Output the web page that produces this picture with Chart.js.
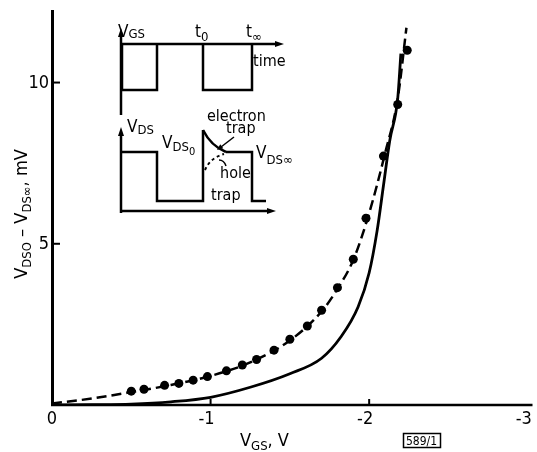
<!DOCTYPE html>
<html>
<head>
<meta charset="utf-8">
<script src="https://cdn.jsdelivr.net/npm/chart.js@4/dist/chart.umd.min.js"></script>
<style>
  html, body { margin: 0; padding: 0; background: #fff; }
</style>
</head>
<body>
<canvas id="chart" width="537" height="452"></canvas>
<script>
// axis ticks
const xTicks = [0, -1, -2, -3];
const xTickLabels = ['0', '-1', '-2', '-3'];
const yTicks = [5, 10];
const yTickLabels = ['5', '10'];

// measured points (dots)
const dotVgs = [-0.50, -0.58, -0.71, -0.80, -0.89, -0.98, -1.10, -1.20, -1.29, -1.40, -1.50, -1.61, -1.70, -1.80, -1.90, -1.98, -2.09, -2.18, -2.24];
const dotMv  = [0.43, 0.49, 0.61, 0.67, 0.77, 0.88, 1.06, 1.24, 1.41, 1.70, 2.04, 2.45, 2.94, 3.64, 4.52, 5.79, 7.72, 9.32, 11.0];

// dashed curve
const fitVgs = [0, -0.25, -0.5, -0.75, -1.0, -1.25, -1.5, -1.7, -1.8, -1.9, -2.0, -2.1, -2.18, -2.235];
const fitMv  = [0.05, 0.2, 0.4, 0.62, 0.9, 1.32, 2.0, 2.9, 3.6, 4.5, 5.95, 7.8, 9.5, 11.7];

// solid curve
const calcVgs = [0, -0.25, -0.5, -0.75, -1.0, -1.25, -1.5, -1.7, -1.82, -1.93, -2.0, -2.05, -2.09, -2.13, -2.18, -2.2];
const calcMv  = [0, 0.01, 0.03, 0.1, 0.24, 0.55, 0.97, 1.45, 2.1, 3.04, 4.1, 5.4, 6.8, 8.2, 9.5, 10.9];

const FONT = '"Liberation Sans Narrow", "DejaVu Sans Condensed", "Liberation Sans", sans-serif';

const pairs = (xs, ys) => xs.map((x, i) => ({ x: x, y: ys[i] }));

// text with subscripts: parts = [text, size, dy]
function rich(ctx, x, y, parts) {
  let cx = x;
  for (const [t, size, dy] of parts) {
    ctx.font = size + 'px ' + FONT;
    ctx.fillText(t, cx, y + (dy || 0));
    cx += ctx.measureText(t).width;
  }
  return cx - x;
}
function richWidth(ctx, parts) {
  let w = 0;
  for (const [t, size] of parts) {
    ctx.font = size + 'px ' + FONT;
    w += ctx.measureText(t).width;
  }
  return w;
}
function poly(ctx, pts) {
  ctx.beginPath();
  ctx.moveTo(pts[0][0], pts[0][1]);
  for (let i = 1; i < pts.length; i++) ctx.lineTo(pts[i][0], pts[i][1]);
  ctx.stroke();
}
function head(ctx, x, y, ang, len, wid) {
  ctx.save();
  ctx.translate(x, y);
  ctx.rotate(ang);
  ctx.beginPath();
  ctx.moveTo(0, 0);
  ctx.lineTo(-len, -wid / 2);
  ctx.lineTo(-len, wid / 2);
  ctx.closePath();
  ctx.fill();
  ctx.restore();
}

function drawInset(ctx) {
  ctx.save();
  ctx.strokeStyle = '#000';
  ctx.fillStyle = '#000';
  ctx.lineWidth = 2.5;
  ctx.textBaseline = 'alphabetic';
  ctx.textAlign = 'left';

  // upper: V_GS
  poly(ctx, [[121, 115], [121, 34]]);
  head(ctx, 121, 28, -Math.PI / 2, 9, 6);
  poly(ctx, [[121, 44], [277, 44]]);
  head(ctx, 284, 44, 0, 9, 6);
  poly(ctx, [[122, 44], [122, 90], [157, 90], [157, 44]]);
  poly(ctx, [[203, 44], [203, 90], [252, 90], [252, 44]]);

  // lower: V_DS
  poly(ctx, [[121, 213], [121, 133]]);
  head(ctx, 121, 127, -Math.PI / 2, 9, 6);
  poly(ctx, [[121, 211], [269, 211]]);
  head(ctx, 276, 211, 0, 9, 6);
  poly(ctx, [[121, 152], [157, 152], [157, 201], [203, 201], [203, 130]]);
  ctx.beginPath();
  ctx.moveTo(203, 130);
  ctx.quadraticCurveTo(211, 146, 226, 152);
  ctx.stroke();
  poly(ctx, [[226, 152], [252, 152], [252, 201], [266, 201]]);

  // hole trap (dashed)
  ctx.save();
  ctx.lineWidth = 2;
  ctx.setLineDash([3, 3]);
  ctx.beginPath();
  ctx.moveTo(205, 170);
  ctx.quadraticCurveTo(210, 158, 224, 154);
  ctx.stroke();
  ctx.restore();

  // small pointer arrows
  ctx.lineWidth = 1.5;
  poly(ctx, [[234, 137], [221, 147]]);
  head(ctx, 217, 150, Math.atan2(13, -17), 6, 5);
  ctx.beginPath();
  ctx.moveTo(226, 166);
  ctx.quadraticCurveTo(224, 160, 219, 160);
  ctx.stroke();

  // labels
  rich(ctx, 118, 37, [['V', 17], ['GS', 13, 1]]);
  rich(ctx, 195, 37, [['t', 17], ['0', 13, 4]]);
  rich(ctx, 246, 37, [['t', 17], ['\u221e', 13, 4]]);
  rich(ctx, 253, 66, [['time', 16]]);
  rich(ctx, 127, 132, [['V', 17], ['DS', 13, 2]]);
  rich(ctx, 162, 148, [['V', 17], ['DS', 13, 3], ['0', 11, 7]]);
  rich(ctx, 207, 121, [['electron', 16]]);
  rich(ctx, 226, 133, [['trap', 16]]);
  rich(ctx, 256, 158, [['V', 17], ['DS\u221e', 13, 6]]);
  rich(ctx, 220, 178, [['hole', 16]]);
  rich(ctx, 211, 200, [['trap', 16]]);
  ctx.restore();
}

const axesPlugin = {
  id: 'axesPlugin',
  afterDraw(chart) {
    const ctx = chart.ctx;
    const xs = chart.scales.x, ys = chart.scales.y;
    const a = chart.chartArea;
    ctx.save();
    ctx.strokeStyle = '#000';
    ctx.fillStyle = '#000';

    // axis lines
    ctx.lineWidth = 3;
    poly(ctx, [[a.left + 0.5, a.top], [a.left + 0.5, a.bottom + 1]]);
    ctx.lineWidth = 2.5;
    poly(ctx, [[a.left - 1, a.bottom], [a.right, a.bottom]]);

    // ticks (inside) and labels
    ctx.font = '18px ' + FONT;
    ctx.lineWidth = 2;
    ctx.textAlign = 'right';
    ctx.textBaseline = 'middle';
    yTicks.forEach((v, i) => {
      const py = ys.getPixelForValue(v);
      poly(ctx, [[a.left, py], [a.left + 8, py]]);
      ctx.fillText(yTickLabels[i], a.left - 3, py + 1);
    });
    ctx.textAlign = 'center';
    xTicks.forEach((v, i) => {
      const px = xs.getPixelForValue(v);
      if (v !== 0 && v > -3) poly(ctx, [[px, a.bottom], [px, a.bottom - 6]]);
      ctx.fillText(xTickLabels[i], v < 0 ? px - 4 : px, a.bottom + 14);
    });

    // axis titles
    ctx.textAlign = 'left';
    ctx.textBaseline = 'alphabetic';
    const yTitle = [['V', 18], ['DSO', 13, 4], [' \u2013 ', 18], ['V', 18], ['DS\u221e', 13, 4], [', mV', 18]];
    const w = richWidth(ctx, yTitle);
    ctx.save();
    ctx.translate(27, 214);
    ctx.rotate(-Math.PI / 2);
    rich(ctx, -w / 2, 0, yTitle);
    ctx.restore();
    rich(ctx, 240, 446, [['V', 18], ['GS', 13, 4], [', V', 18]]);

    // figure number box
    ctx.lineWidth = 1.5;
    ctx.strokeRect(403.5, 433.5, 37, 14);
    ctx.font = '12px ' + FONT;
    ctx.fillText('589/1', 406, 445);

    drawInset(ctx);
    ctx.restore();
  }
};

new Chart(document.getElementById('chart'), {
  type: 'scatter',
  data: {
    datasets: [
      {
        data: pairs(fitVgs, fitMv),
        showLine: true,
        borderColor: '#000',
        borderWidth: 2.5,
        borderDash: [10, 5],
        pointRadius: 0,
        cubicInterpolationMode: 'monotone',
        fill: false
      },
      {
        data: pairs(calcVgs, calcMv),
        showLine: true,
        borderColor: '#000',
        borderWidth: 2.8,
        pointRadius: 0,
        cubicInterpolationMode: 'monotone',
        fill: false
      },
      {
        data: pairs(dotVgs, dotMv),
        showLine: false,
        pointRadius: 4.5,
        backgroundColor: '#000',
        borderColor: '#000',
        borderWidth: 0
      }
    ]
  },
  options: {
    responsive: false,
    animation: false,
    layout: { padding: { top: 10, right: 0, left: 0, bottom: 0 } },
    plugins: { legend: { display: false }, tooltip: { enabled: false } },
    scales: {
      x: {
        type: 'linear', reverse: true, min: -3.03, max: 0,
        grid: { display: false }, border: { display: false },
        ticks: { display: false },
        afterFit: s => { s.height = 47; }
      },
      y: {
        type: 'linear', min: 0, max: 12.25,
        grid: { display: false }, border: { display: false },
        ticks: { display: false },
        afterFit: s => { s.width = 52; }
      }
    }
  },
  plugins: [axesPlugin]
});
</script>
</body>
</html>
